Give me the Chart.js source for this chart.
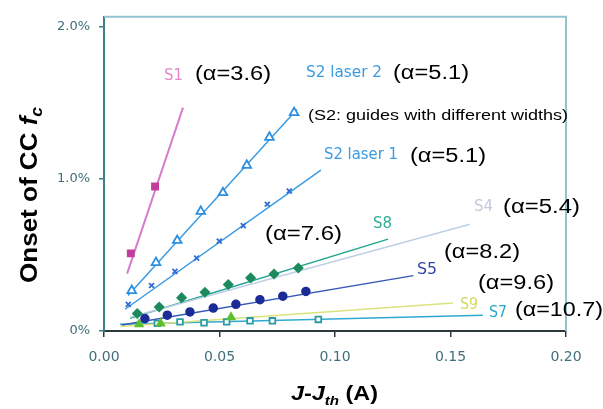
<!DOCTYPE html>
<html>
<head>
<meta charset="utf-8">
<script src="https://cdn.jsdelivr.net/npm/chart.js@4"></script>
<style>
  html, body { margin: 0; padding: 0; background: #fff; }
  #wrap { width: 603px; height: 409px; }
</style>
</head>
<body>
<div id="wrap"><canvas id="ccChart" width="603" height="409"></canvas></div>
<script>
// ---- axis ticks ----
const xTickValues = [0, 0.05, 0.10, 0.15, 0.20];
const yTickValues = [0, 1, 2];              // onset in %
const yTickLabels = ['0%', '1.0%', '2.0%'];

// ---- measured points (x = J-Jth in A, y = onset in %) ----
const s1X = [0.0116, 0.0221];
const s1Y = [0.51, 0.95];
const s2l2X = [0.0120, 0.0225, 0.0317, 0.0419, 0.0515, 0.0618, 0.0716, 0.0823];
const s2l2Y = [0.266, 0.450, 0.595, 0.786, 0.909, 1.089, 1.273, 1.435];
const s2l1X = [0.0105, 0.0206, 0.0307, 0.0401, 0.0499, 0.0603, 0.0707, 0.0802];
const s2l1Y = [0.175, 0.299, 0.392, 0.479, 0.591, 0.693, 0.833, 0.920];
const s8X = [0.0144, 0.0239, 0.0336, 0.0437, 0.0538, 0.0635, 0.0736, 0.0841];
const s8Y = [0.115, 0.158, 0.219, 0.255, 0.305, 0.349, 0.375, 0.414];
const s5X = [0.0177, 0.0274, 0.0372, 0.0473, 0.0571, 0.0675, 0.0774, 0.0874];
const s5Y = [0.082, 0.104, 0.125, 0.151, 0.175, 0.206, 0.229, 0.260];
const s9X = [0.0152, 0.0245, 0.0550];
const s9Y = [0.045, 0.050, 0.090];
const s7X = [0.0231, 0.0329, 0.0433, 0.0531, 0.0632, 0.0729, 0.0928];
const s7Y = [0.050, 0.060, 0.054, 0.060, 0.067, 0.067, 0.076];

// ---- linear fits (end points) ----
const s1FitX = [0.0100, 0.0342];   const s1FitY = [0.377, 1.468];
const s2l2FitX = [0.0104, 0.0835]; const s2l2FitY = [0.234, 1.455];
const s2l1FitX = [0.0091, 0.0939]; const s2l1FitY = [0.143, 1.058];
const s8FitX = [0.0113, 0.1230];   const s8FitY = [0.084, 0.604];
const s4FitX = [0.0113, 0.1584];   const s4FitY = [0.090, 0.701];
const s5FitX = [0.0077, 0.1339];   const s5FitY = [0.039, 0.364];
const s9FitX = [0.0070, 0.1511];   const s9FitY = [0.030, 0.184];
const s7FitX = [0.0069, 0.1640];   const s7FitY = [0.045, 0.104];

function pts(xs, ys) {
    return xs.map((x, i) => ({ x: x, y: ys[i] }));
}

function fitLine(xs, ys, color, width) {
    return {
        data: pts(xs, ys),
        showLine: true,
        borderColor: color,
        borderWidth: width,
        pointRadius: 0,
        order: 2
    };
}

function markers(xs, ys, style, radius, fill, stroke, lw) {
    return {
        data: pts(xs, ys),
        showLine: false,
        pointStyle: style,
        pointRadius: radius,
        backgroundColor: fill,
        borderColor: stroke,
        borderWidth: lw || 1.5,
        order: 1
    };
}

// ---- text drawn over the plot ----
const SERIES_FONT = '15px "DejaVu Sans Condensed", "DejaVu Sans", sans-serif';
const ALPHA_FONT = '20px "Liberation Sans", Arial, sans-serif';
const notes = [
    { text: 'S1',         x: 164, y: 76,  w: 19,  font: SERIES_FONT, color: '#e585cf' },
    { text: '(α=3.6)',    x: 195, y: 74,  w: 76,  font: ALPHA_FONT,  color: '#000' },
    { text: 'S2 laser 2', x: 306, y: 73,  w: 76,  font: SERIES_FONT, color: '#3a9ae2' },
    { text: '(α=5.1)',    x: 393, y: 73,  w: 76,  font: ALPHA_FONT,  color: '#000' },
    { text: '(S2: guides with different widths)', x: 308, y: 116, w: 260,
      font: '14px "Liberation Sans", Arial, sans-serif', color: '#000' },
    { text: 'S2 laser 1', x: 324, y: 155, w: 74,  font: SERIES_FONT, color: '#3a9ae2' },
    { text: '(α=5.1)',    x: 410, y: 156, w: 76,  font: ALPHA_FONT,  color: '#000' },
    { text: 'S4',         x: 474, y: 207, w: 19,  font: SERIES_FONT, color: '#c2cad8' },
    { text: '(α=5.4)',    x: 503, y: 207, w: 77,  font: ALPHA_FONT,  color: '#000' },
    { text: '(α=7.6)',    x: 265, y: 234, w: 77,  font: ALPHA_FONT,  color: '#000' },
    { text: 'S8',         x: 373, y: 224, w: 19,  font: SERIES_FONT, color: '#2fae96' },
    { text: '(α=8.2)',    x: 444, y: 252, w: 76,  font: ALPHA_FONT,  color: '#000' },
    { text: 'S5',         x: 417, y: 270, w: 20,  font: SERIES_FONT, color: '#3148a8' },
    { text: '(α=9.6)',    x: 478, y: 283, w: 76,  font: ALPHA_FONT,  color: '#000' },
    { text: 'S9',         x: 460, y: 305, w: 18,  font: SERIES_FONT, color: '#cfdc55' },
    { text: 'S7',         x: 489, y: 313, w: 18,  font: SERIES_FONT, color: '#2aa6cf' },
    { text: '(α=10.7)',   x: 515, y: 310, w: 88,  font: ALPHA_FONT,  color: '#000' }
];

// draws a run of text pieces squeezed/stretched to a given total width
function drawRun(ctx, pieces, x, y, width) {
    let total = 0;
    pieces.forEach(p => { ctx.font = p.font; total += ctx.measureText(p.t).width; });
    const sx = width / total;
    ctx.save();
    ctx.translate(x, y);
    ctx.scale(sx, 1);
    let cx = 0;
    pieces.forEach(p => {
        ctx.font = p.font;
        ctx.fillStyle = p.color || '#000';
        ctx.fillText(p.t, cx, p.dy || 0);
        cx += ctx.measureText(p.t).width;
    });
    ctx.restore();
}

const overlayPlugin = {
    id: 'overlay',
    afterDraw(chart) {
        const ctx = chart.ctx;
        const a = chart.chartArea;

        // light frame on top and right
        ctx.save();
        ctx.strokeStyle = '#93c3d3';
        ctx.lineWidth = 2;
        ctx.beginPath();
        ctx.moveTo(a.left, a.top);
        ctx.lineTo(a.right, a.top);
        ctx.lineTo(a.right, a.bottom);
        ctx.stroke();
        ctx.restore();

        ctx.save();
        ctx.textBaseline = 'middle';
        notes.forEach(n => {
            drawRun(ctx, [{ t: n.text, font: n.font, color: n.color }], n.x, n.y, n.w);
        });

        // axis titles
        ctx.textBaseline = 'alphabetic';
        const xt = 'bold 20px "Liberation Sans", Arial, sans-serif';
        const xti = 'italic bold 20px "Liberation Sans", Arial, sans-serif';
        const xts = 'italic bold 13px "Liberation Sans", Arial, sans-serif';
        drawRun(ctx, [
            { t: 'J', font: xti }, { t: '-', font: xt }, { t: 'J', font: xti },
            { t: 'th', font: xts, dy: 5 }, { t: ' (A)', font: xt }
        ], 291, 400, 87);

        const yt = 'bold 24px "Liberation Sans", Arial, sans-serif';
        const yti = 'italic bold 24px "Liberation Sans", Arial, sans-serif';
        const yts = 'italic bold 16px "Liberation Sans", Arial, sans-serif';
        ctx.translate(37, 283);
        ctx.rotate(-Math.PI / 2);
        drawRun(ctx, [
            { t: 'Onset of CC ', font: yt }, { t: 'f', font: yti }, { t: 'c', font: yts, dy: 5 }
        ], 0, 0, 176);
        ctx.restore();
    }
};

const datasets = [
    fitLine(s1FitX, s1FitY, '#d77ccd', 2),
    fitLine(s2l2FitX, s2l2FitY, '#3a9ae2', 1.5),
    fitLine(s2l1FitX, s2l1FitY, '#3a9ae2', 1.5),
    fitLine(s4FitX, s4FitY, '#bfd0e6', 1.5),
    fitLine(s8FitX, s8FitY, '#21a690', 1.5),
    fitLine(s5FitX, s5FitY, '#3558b8', 1.5),
    fitLine(s9FitX, s9FitY, '#dbe37a', 1.5),
    fitLine(s7FitX, s7FitY, '#2eaad2', 1.5),
    markers(s1X, s1Y, 'rect', 4.5, '#c43c9e', '#c43c9e'),
    markers(s2l2X, s2l2Y, 'triangle', 5, '#ffffff', '#2d8fe0', 1.8),
    markers(s2l1X, s2l1Y, 'crossRot', 3.5, '#2f6fd4', '#2f6fd4', 1.8),
    markers(s8X, s8Y, 'rectRot', 4.5, '#1d8a5e', '#1d8a5e'),
    markers(s5X, s5Y, 'circle', 4, '#1c2c96', '#1c2c96'),
    markers(s9X, s9Y, 'triangle', 4.5, '#5cbf2c', '#5cbf2c'),
    markers(s7X, s7Y, 'rect', 4, '#ffffff', '#2a9aa6', 1.8)
];

new Chart(document.getElementById('ccChart'), {
    type: 'scatter',
    data: { datasets: datasets },
    options: {
        responsive: false,
        animation: false,
        layout: { padding: { left: 0, top: 13, right: 37, bottom: 0 } },
        plugins: {
            legend: { display: false },
            tooltip: { enabled: false }
        },
        scales: {
            x: {
                type: 'linear',
                min: 0,
                max: 0.2,
                afterBuildTicks: scale => { scale.ticks = xTickValues.map(v => ({ value: v })); },
                afterFit: scale => { scale.height = 78; },
                ticks: {
                    padding: 12,
                    color: '#3f6f7a',
                    font: { family: '"DejaVu Sans", sans-serif', size: 14 },
                    callback: v => v.toFixed(2)
                },
                grid: { drawOnChartArea: false, tickLength: 6, color: '#2d3a3c', lineWidth: 1.5 },
                border: { color: '#2d3a3c', width: 2 }
            },
            y: {
                type: 'linear',
                min: 0,
                max: 2.065,
                afterBuildTicks: scale => { scale.ticks = yTickValues.map(v => ({ value: v })); },
                afterFit: scale => { scale.width = 104; },
                ticks: {
                    padding: 9,
                    color: '#3f6f7a',
                    font: { family: '"DejaVu Sans", sans-serif', size: 13 },
                    callback: v => yTickLabels[yTickValues.indexOf(v)]
                },
                grid: { drawOnChartArea: false, tickLength: 5, color: '#3f7f8c', lineWidth: 1.5 },
                border: { color: '#3f7f8c', width: 2 }
            }
        }
    },
    plugins: [overlayPlugin]
});
</script>
</body>
</html>
